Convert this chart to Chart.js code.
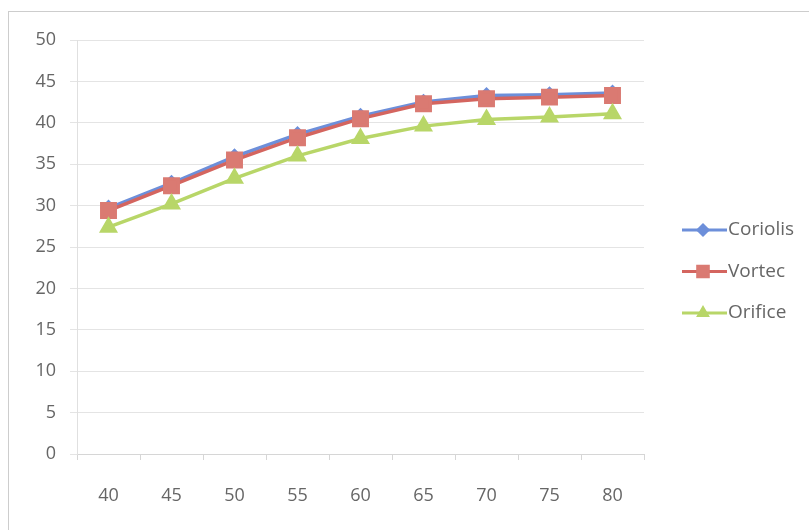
<!DOCTYPE html>
<html>
<head>
<meta charset="utf-8">
<script src="https://cdn.jsdelivr.net/npm/chart.js@4.4.1/dist/chart.umd.min.js"></script>
<style>
  html, body { margin: 0; padding: 0; background: #ffffff; overflow: hidden; }
  #frame { position: absolute; left: 8px; top: 11px; width: 820px; height: 540px; border: 1px solid #cdcdcd; box-sizing: border-box; }
  #wrap { position: absolute; left: 0; top: 0; width: 809px; height: 530px; }
</style>
</head>
<body>
<div id="frame"></div>
<div id="wrap"><canvas id="c" width="809" height="530"></canvas></div>
<script>
// Flow readings by meter type
const categories = ['40', '45', '50', '55', '60', '65', '70', '75', '80'];
const coriolis = [29.7, 32.7, 35.9, 38.6, 40.8, 42.5, 43.3, 43.4, 43.6];
const vortec   = [29.4, 32.4, 35.5, 38.2, 40.5, 42.3, 42.9, 43.1, 43.3];
const orifice  = [27.4, 30.2, 33.3, 36.0, 38.1, 39.6, 40.4, 40.7, 41.1];
const yTicks = [0, 5, 10, 15, 20, 25, 30, 35, 40, 45, 50];

const FONT = '"Open Sans", Lato, sans-serif';
const TEXT = '#666666';
const FONT_SIZE = 18;

// Excel-style legend: a short line with the series marker, then the name
const sideLegend = {
  id: 'sideLegend',
  afterDraw(chart) {
    const ctx = chart.ctx;
    const x0 = 682, x1 = 727, startY = 230, step = 41.5;
    ctx.save();
    chart.data.datasets.forEach((ds, i) => {
      const y = startY + i * step;
      ctx.strokeStyle = ds.borderColor;
      ctx.lineWidth = 3;
      ctx.beginPath();
      ctx.moveTo(x0, y);
      ctx.lineTo(x1, y);
      ctx.stroke();
      ctx.fillStyle = ds.pointBackgroundColor;
      ctx.strokeStyle = ds.pointBorderColor;
      Chart.helpers.drawPoint(ctx, {
        pointStyle: ds.pointStyle,
        radius: ds.legendRadius,
        rotation: 0,
        borderWidth: 1
      }, 703, y);
      ctx.fillStyle = TEXT;
      ctx.font = (FONT_SIZE + 1) + 'px ' + FONT;
      ctx.textAlign = 'left';
      ctx.textBaseline = 'middle';
      ctx.fillText(ds.label, x1 + 1, y);
    });
    ctx.restore();
  }
};

new Chart(document.getElementById('c'), {
  type: 'line',
  data: {
    labels: categories,
    datasets: [
      {
        label: 'Coriolis', data: coriolis, order: 3,
        borderColor: '#6d8fda', backgroundColor: '#6d8fda',
        pointBackgroundColor: '#6d8fda', pointBorderColor: '#6d8fda',
        pointStyle: 'rectRot', pointRadius: 6, legendRadius: 5,
        borderWidth: 3.5, tension: 0
      },
      {
        label: 'Vortec', data: vortec, order: 2,
        borderColor: '#d4655f', backgroundColor: '#da7a72',
        pointBackgroundColor: '#da7a72', pointBorderColor: '#da7a72',
        pointStyle: 'rect', pointRadius: 9.5, legendRadius: 7.5,
        borderWidth: 3.5, tension: 0
      },
      {
        label: 'Orifice', data: orifice, order: 1,
        borderColor: '#b8d668', backgroundColor: '#b8d668',
        pointBackgroundColor: '#b8d668', pointBorderColor: '#b8d668',
        pointStyle: 'triangle', pointRadius: 7.5, legendRadius: 5,
        borderWidth: 3.5, tension: 0
      }
    ]
  },
  options: {
    responsive: false,
    animation: false,
    layout: { padding: { left: 0, right: 165, top: 40, bottom: 0 } },
    plugins: { legend: { display: false }, tooltip: { enabled: false } },
    scales: {
      x: {
        offset: true,
        grid: { drawOnChartArea: false, drawTicks: true, tickLength: 6, offset: true, color: '#d6d6d6' },
        border: { color: '#d6d6d6', width: 1 },
        ticks: { color: TEXT, font: { family: FONT, size: FONT_SIZE }, padding: 25 },
        afterFit(scale) { scale.height = 76; }
      },
      y: {
        min: 0, max: 50,
        afterBuildTicks(scale) { scale.ticks = yTicks.map(v => ({ value: v })); },
        grid: { color: '#e4e4e4', tickLength: 7 },
        border: { color: '#e0e0e0', width: 1 },
        ticks: { color: TEXT, font: { family: FONT, size: FONT_SIZE }, padding: 14 },
        afterFit(scale) { scale.width = 77; }
      }
    }
  },
  plugins: [sideLegend]
});
</script>
</body>
</html>
